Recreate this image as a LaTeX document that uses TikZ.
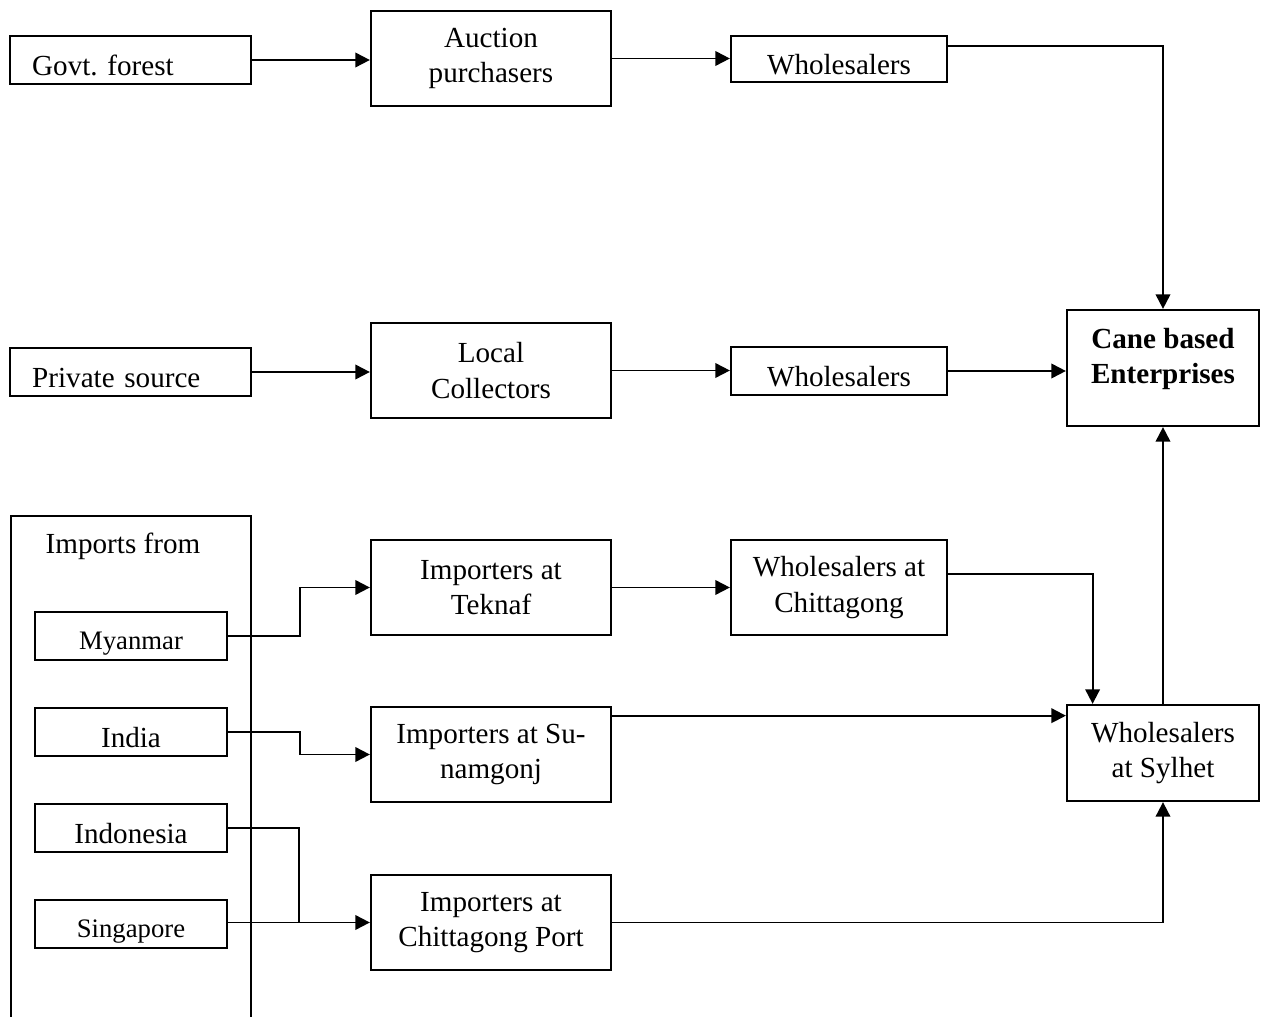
\documentclass[tikz,border=0pt]{standalone}
\usepackage{fontspec}
\setmainfont{Liberation Serif}
\usetikzlibrary{arrows.meta}
\frenchspacing

\begin{document}
\begin{tikzpicture}[x=0.412pt, y=-0.412pt,
		box/.style={draw, line width=0.9pt, inner sep=0pt, align=center,
			font=\fontsize{12}{14.5}\selectfont},
		oneline/.style={text height=12.5pt, text depth=0pt},
		srcbox/.style={box, oneline, minimum height=19.8pt, text width=81pt, inner xsep=9pt, align=left},
		midbox/.style={box, minimum width=98.9pt, minimum height=39.1pt},
		whbox/.style={box, minimum width=89pt},
		ctrybox/.style={box, oneline, minimum width=79.1pt, minimum height=19.8pt},
		arr/.style={-{Triangle[length=6pt,width=6pt]}, line width=0.8pt},
		link/.style={line width=0.8pt}]
	\useasboundingbox (0,0) rectangle (1264,1017);

	% top row
	\node[srcbox] (govt) at (130.5,60) {Govt. forest};
	\node[midbox] (auction) at (491,58.5) {Auction\\purchasers};
	\node[whbox, oneline, minimum height=19pt] (whole1) at (839,59) {Wholesalers};

	% middle row
	\node[srcbox] (private) at (130.5,372) {Private source};
	\node[midbox] (local) at (491,370.5) {Local\\Collectors};
	\node[whbox, oneline, minimum height=19.8pt] (whole2) at (839,371) {Wholesalers};
	\node[box, minimum width=79.1pt, minimum height=47.8pt,
		label={[font=\fontsize{12}{14.5}\selectfont\bfseries, align=center, yshift=3.8pt]center:Cane based\\Enterprises}]
		(cane) at (1163,368) {};

	% imports
	\draw[line width=0.9pt] (11,1017) |- (251,516) -- (251,1017);
	\node[font=\fontsize{12}{14.5}\selectfont] (imports) at (123,546) {Imports from};
	\node[ctrybox, font=\fontsize{11}{13}\selectfont, text height=11.5pt] (myanmar) at (131,636) {Myanmar};
	\node[ctrybox] (india) at (131,732) {India};
	\node[ctrybox] (indonesia) at (131,828) {Indonesia};
	\node[ctrybox, font=\fontsize{11}{13}\selectfont, text height=11.5pt] (singapore) at (131,924) {Singapore};

	\node[midbox] (teknaf) at (491,587.5) {Importers at\\Teknaf};
	\node[midbox] (sunam) at (491,754.5) {Importers at Su-\\namgonj};
	\node[midbox] (ctgport) at (491,922.5) {Importers at\\Chittagong Port};
	\node[whbox, minimum height=39.1pt] (wholectg) at (839,587.5) {Wholesalers at\\Chittagong};
	\node[box, minimum width=79.1pt, minimum height=39.6pt] (sylhet) at (1163,753) {Wholesalers\\at Sylhet};

	\coordinate (join) at (299,922.5);
	\coordinate (wc) at ([yshift=5.5pt]wholectg.east);
	\coordinate (sn) at ([yshift=-4pt]sunam.north east);

	% connectors
	\draw[arr] (govt.east) -- (govt.east -| auction.west);
	\draw[arr] (auction.east) -- (auction.east -| whole1.west);
	\draw[arr] ([yshift=5.4pt]whole1.east) -| (cane.north);
	\draw[arr] (private.east) -- (private.east -| local.west);
	\draw[arr] (local.east) -- (local.east -| whole2.west);
	\draw[arr] (whole2.east) -- (whole2.east -| cane.west);

	\draw[arr] (myanmar.east) -- ++(72,0) |- (teknaf.west);
	\draw[arr] (india.east) -- ++(72,0) |- (sunam.west);
	\draw[link] (indonesia.east) -| (join);
	\draw[arr] (singapore.east |- join) -- (join -| ctgport.west);

	\draw[arr] (teknaf.east) -- (wholectg.west);
	\draw[arr] (wc) -| ([xshift=-29pt]sylhet.north);
	\draw[arr] (sn) -- (sn -| sylhet.west);
	\draw[arr] (ctgport.east) -| (sylhet.south);
	\draw[arr] (sylhet.north) -- (cane.south);
\end{tikzpicture}
\end{document}
